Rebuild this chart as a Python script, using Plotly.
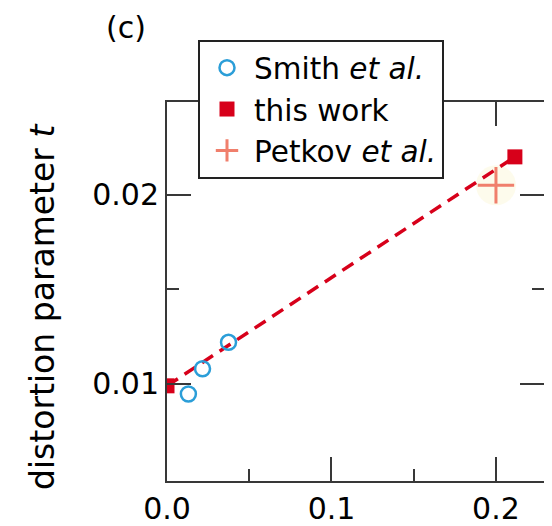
import plotly.graph_objects as go

# Data
smith_x = [0.013, 0.0216, 0.0374]
smith_y = [0.00947, 0.0108, 0.0122]
this_x = [0.0, 0.2115]
this_y = [0.0099, 0.0220]
petkov_x = [0.2]
petkov_y = [0.0205]
x_tickvals = [0.0, 0.1, 0.2]
x_ticktext = ["0.0", "0.1", "0.2"]
y_tickvals = [0.01, 0.02]
y_ticktext = ["0.01", "0.02"]

FONT = "DejaVu Sans, sans-serif"
AX = "#383838"
RED = "#d7001a"
BLUE = "#2b9ed8"
SALMON = "#f07f6c"
TXT = "#000000"

# page body adds an 8px offset, so the figure is 8px smaller than the window
W, H = 544, 518
L, R, T, B = 159, 8, 94, 45
pw, ph = W - L - R, H - T - B

fig = go.Figure()

# faint yellow glow behind Petkov marker
fig.add_trace(go.Scatter(x=petkov_x, y=petkov_y, mode="markers", showlegend=False,
                         marker=dict(size=40, color="rgba(250,243,200,0.35)", line=dict(width=0)),
                         hoverinfo="skip"))
# dashed line connecting this work
fig.add_trace(go.Scatter(x=this_x, y=this_y, mode="lines", showlegend=False,
                         line=dict(color=RED, width=3.5, dash="13px,8px")))
fig.add_trace(go.Scatter(x=smith_x, y=smith_y, mode="markers", name="Smith <i>et al.</i>",
                         marker=dict(symbol="circle-open", size=15, color=BLUE, line=dict(width=2.5, color=BLUE))))
fig.add_trace(go.Scatter(x=this_x, y=this_y, mode="markers", name="this work",
                         marker=dict(symbol="square", size=15, color=RED)))
fig.add_trace(go.Scatter(x=petkov_x, y=petkov_y, mode="markers", name="Petkov <i>et al.</i>",
                         marker=dict(symbol="cross-thin-open", size=26, color=SALMON,
                                     line=dict(width=3, color=SALMON))))

axis_common = dict(showline=True, linecolor=AX, linewidth=2, mirror="allticks",
                   ticks="inside", ticklen=24, tickwidth=2, tickcolor=AX,
                   showgrid=False, zeroline=False, automargin=False,
                   tickfont=dict(family=FONT, size=30, color=TXT))

fig.update_xaxes(range=[0, 0.2292], tickvals=x_tickvals, ticktext=x_ticktext,
                 minor=dict(ticks="inside", ticklen=12, tickwidth=2, tickcolor=AX,
                            tickvals=[0.05, 0.15]),
                 **axis_common)
fig.update_yaxes(range=[0.00487, 0.0249], tickvals=y_tickvals, ticktext=y_ticktext,
                 minor=dict(ticks="inside", ticklen=12, tickwidth=2, tickcolor=AX,
                            tickvals=[0.015]),
                 **axis_common)

fig.update_layout(
    width=W, height=H,
    margin=dict(l=L, r=R, t=T, b=B),
    paper_bgcolor="white", plot_bgcolor="white",
    font=dict(family=FONT, size=30, color=TXT),
    legend=dict(x=(190 - L) / pw, y=(H - B - 32) / ph,
                xanchor="left", yanchor="top",
                bgcolor="white", bordercolor="#222", borderwidth=2,
                font=dict(family=FONT, size=29.5, color=TXT),
                itemwidth=44, tracegroupgap=0),
    annotations=[
        dict(text="(c)", xref="paper", yref="paper", x=(118 - L) / pw, y=(H - B - 20) / ph,
             xanchor="center", yanchor="middle",
             showarrow=False, font=dict(family=FONT, size=30, color=TXT)),
        dict(text="distortion parameter <i>t</i>", xref="paper", yref="paper",
             x=(34 - L) / pw, y=(H - B - 299) / ph, textangle=-90,
             xanchor="center", yanchor="middle",
             showarrow=False, font=dict(family=FONT, size=33, color=TXT)),
    ],
)

fig.write_html("out.html")
